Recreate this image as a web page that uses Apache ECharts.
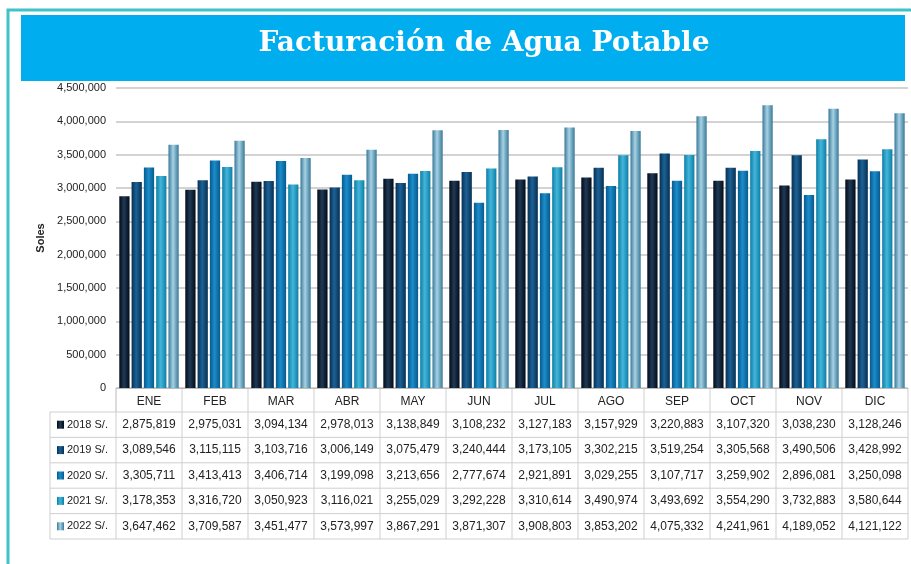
<!DOCTYPE html>
<html>
<head>
<meta charset="utf-8">
<script src="https://cdn.jsdelivr.net/npm/echarts@6/dist/echarts.min.js"></script>
<style>
  html, body { margin: 0; padding: 0; background: #fff; }
  #chart { width: 911px; height: 564px; }
</style>
</head>
<body>
<div id="chart"></div>
<script>
const months = ['ENE', 'FEB', 'MAR', 'ABR', 'MAY', 'JUN', 'JUL', 'AGO', 'SEP', 'OCT', 'NOV', 'DIC'];
const seriesNames = ['2018 S/.', '2019 S/.', '2020 S/.', '2021 S/.', '2022 S/.'];
const v2018 = [2875819, 2975031, 3094134, 2978013, 3138849, 3108232, 3127183, 3157929, 3220883, 3107320, 3038230, 3128246];
const v2019 = [3089546, 3115115, 3103716, 3006149, 3075479, 3240444, 3173105, 3302215, 3519254, 3305568, 3490506, 3428992];
const v2020 = [3305711, 3413413, 3406714, 3199098, 3213656, 2777674, 2921891, 3029255, 3107717, 3259902, 2896081, 3250098];
const v2021 = [3178353, 3316720, 3050923, 3116021, 3255029, 3292228, 3310614, 3490974, 3493692, 3554290, 3732883, 3580644];
const v2022 = [3647462, 3709587, 3451477, 3573997, 3867291, 3871307, 3908803, 3853202, 4075332, 4241961, 4189052, 4121122];
const allValues = [v2018, v2019, v2020, v2021, v2022];

// colores de las barras: borde, centro
const barColors = [
  ['#040a14', '#1f3b58'],
  ['#062f52', '#1d6296'],
  ['#065a90', '#1c8cc8'],
  ['#0c7fa6', '#45b5da'],
  ['#3a7896', '#a6d2e6'],
];

const fmt = v => v.toLocaleString('en-US');

function barGradient(c) {
  return new echarts.graphic.LinearGradient(0, 0, 1, 0, [
    {offset: 0, color: c[0]},
    {offset: 0.45, color: c[1]},
    {offset: 1, color: c[0]},
  ]);
}

const chart = echarts.init(document.getElementById('chart'));

const option = {
  animation: false,
  backgroundColor: '#fff',
  grid: {left: 116, right: 3, top: 88, bottom: 176},
  xAxis: {
    type: 'category',
    data: months,
    axisTick: {show: false},
    axisLine: {lineStyle: {color: '#bbb'}},
    axisLabel: {color: '#222', fontSize: 12, fontFamily: 'Liberation Sans', margin: 8},
  },
  yAxis: {
    type: 'value',
    min: 0,
    max: 4500000,
    interval: 500000,
    name: 'Soles',
    nameLocation: 'middle',
    nameGap: 70,
    nameTextStyle: {fontSize: 11, fontWeight: 'bold', color: '#222', fontFamily: 'Liberation Sans'},
    axisLabel: {color: '#222', fontSize: 11, fontFamily: 'Liberation Sans', formatter: v => fmt(v), margin: 10},
    axisLine: {show: false},
    axisTick: {show: false},
    splitLine: {lineStyle: {color: '#c4c4c4', width: 1.5}},
  },
  series: allValues.map((vals, i) => ({
    name: seriesNames[i],
    type: 'bar',
    data: vals,
    barGap: '20%',
    barCategoryGap: '10%',
    itemStyle: {color: barGradient(barColors[i])},
  })),
};
chart.setOption(option);

// tabla de datos bajo el grafico
function buildTable() {
  const g = [];
  const colW = chart.convertToPixel({xAxisIndex: 0}, 1) - chart.convertToPixel({xAxisIndex: 0}, 0);
  const x0 = chart.convertToPixel({xAxisIndex: 0}, 0) - colW / 2;
  const xEnd = x0 + colW * months.length;
  const headTop = 389, headBot = 412, rowH = 25.4;
  const legLeft = 50;
  const lineStyle = {stroke: '#cfcfcf', lineWidth: 1};
  const line = (x1, y1, x2, y2) => g.push({type: 'line', shape: {x1, y1, x2, y2}, style: lineStyle, silent: true});

  line(x0, headTop, x0, headBot);
  line(x0, headBot, xEnd, headBot);
  for (let c = 0; c <= months.length; c++) line(x0 + c * colW, headTop, x0 + c * colW, headBot + rowH * 5);
  line(legLeft, headBot, x0, headBot);
  line(legLeft, headBot, legLeft, headBot + rowH * 5);
  for (let r = 1; r <= 5; r++) line(legLeft, headBot + r * rowH, xEnd, headBot + r * rowH);

  allValues.forEach((vals, r) => {
    const cy = headBot + r * rowH + rowH / 2;
    g.push({type: 'rect', shape: {x: legLeft + 7, y: cy - 4, width: 7, height: 8},
      style: {fill: barGradient(barColors[r])}, silent: true});
    g.push({type: 'text', x: legLeft + 17, y: cy,
      style: {text: seriesNames[r], fill: '#222', font: '11px "Liberation Sans"', verticalAlign: 'middle'}, silent: true});
    vals.forEach((v, c) => {
      g.push({type: 'text', x: chart.convertToPixel({xAxisIndex: 0}, c), y: cy,
        style: {text: fmt(v), fill: '#222', font: '12px "Liberation Sans"', align: 'center', verticalAlign: 'middle'}, silent: true});
    });
  });

  // marco y titulo
  g.push({type: 'rect', shape: {x: 8, y: 10, width: 920, height: 580},
    style: {fill: 'none', stroke: '#3fc2ca', lineWidth: 3}, silent: true});
  g.push({type: 'rect', shape: {x: 21, y: 15, width: 884, height: 66},
    style: {fill: '#00adef'}, silent: true});
  g.push({type: 'text', x: 484, y: 44,
    style: {text: 'Facturación de Agua Potable', fill: '#fff', font: 'bold 28px "DejaVu Serif"',
      align: 'center', verticalAlign: 'middle'}, silent: true});

  chart.setOption({graphic: g});
}
buildTable();
</script>
</body>
</html>
